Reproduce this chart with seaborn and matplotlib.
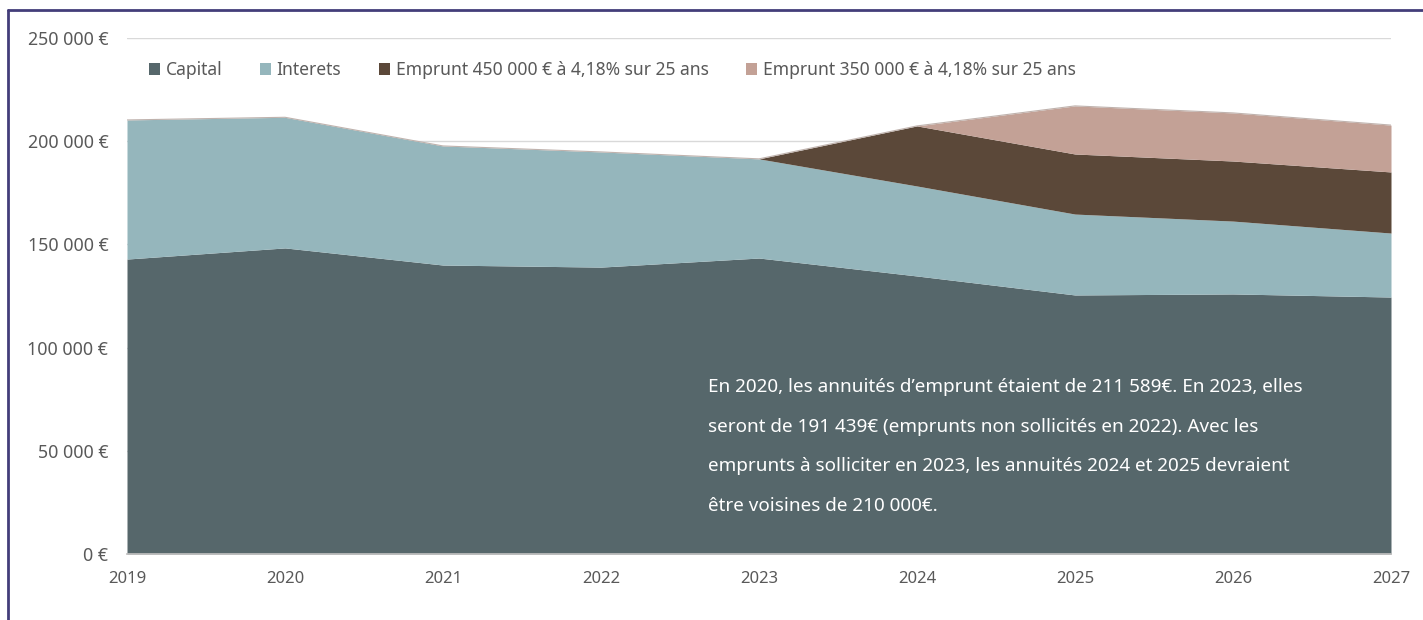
import numpy as np
import pandas as pd
import seaborn as sns
import matplotlib.pyplot as plt
from matplotlib.patches import Patch
from matplotlib.lines import Line2D
from matplotlib.ticker import FuncFormatter

# donnees
annees = [2019, 2020, 2021, 2022, 2023, 2024, 2025, 2026, 2027]
capital = [142900, 148300, 140000, 139000, 143400, 134700, 125500, 126000, 124500]
interets = [67400, 63289, 57700, 55800, 48039, 43600, 39200, 35300, 31000]
emprunt_450 = [0, 0, 0, 0, 0, 29100, 29100, 29100, 29600]
emprunt_350 = [0, 0, 0, 0, 0, 0, 23300, 23300, 22700]
series = ["Capital", "Interets", "Emprunt 450 000 € à 4,18% sur 25 ans",
          "Emprunt 350 000 € à 4,18% sur 25 ans"]
couleurs = ["#56676b", "#95b6bc", "#5b4839", "#c3a196"]

df = pd.DataFrame({"annee": annees, series[0]: capital, series[1]: interets,
                   series[2]: emprunt_450, series[3]: emprunt_350})

sns.set_theme(style="white")
plt.rcParams['font.family'] = ['Noto Sans', 'DejaVu Sans']
gris = "#595959"

fig = plt.figure(figsize=(14.23, 6.2), dpi=100)
ax = fig.add_axes([127/1423, 1-554/620, 1264/1423, 516/620])

ax.stackplot(df["annee"], [df[s] for s in series], colors=couleurs,
             linewidth=0, zorder=2)
# fin liseré au sommet
top = df[series].sum(axis=1)
sns.lineplot(x=df["annee"], y=top, ax=ax, color="#bfb2ad", lw=0.8, zorder=3)

ax.set_xlim(2019, 2027)
ax.set_ylim(0, 250000)
ax.set_xticks(annees)
ax.set_yticks(np.arange(0, 250001, 50000))
ax.yaxis.set_major_formatter(FuncFormatter(lambda v, p: f"{int(v):,} €".replace(",", " ")))
ax.grid(axis="y", color="#d9d9d9", lw=1, zorder=0)
ax.set_axisbelow(True)
sns.despine(ax=ax, left=True, right=True, top=True)
ax.spines["bottom"].set_color("#bfbfbf")
ax.spines["bottom"].set_zorder(4)
ax.tick_params(axis="x", colors="#bfbfbf", length=6, width=1, direction="out",
               labelcolor=gris, labelsize=12, pad=6)
ax.tick_params(axis="y", length=0, labelcolor=gris, labelsize=12.8, pad=13.5)
ax.set_xlabel("")
ax.set_ylabel("")

handles = [Patch(facecolor=c, edgecolor="none") for c in couleurs]
ax.legend(handles, series, loc="upper left", bbox_to_anchor=(0.005, 0.986),
          ncol=4, frameon=False, fontsize=12.6, handlelength=0.65, handleheight=0.65,
          handletextpad=0.3, columnspacing=2.15, labelcolor=gris)

texte = ("En 2020, les annuités d’emprunt étaient de 211 589€. En 2023, elles\n"
         "seront de 191 439€ (emprunts non sollicités en 2022). Avec les\n"
         "emprunts à solliciter en 2023, les annuités 2024 et 2025 devraient\n"
         "être voisines de 210 000€.")
fig.text(708/1423, 1-378/620, texte, color="white", fontsize=13.6, ha="left",
         va="top", linespacing=2.55)

# cadre
fig.add_artist(Line2D([8/1423, 8/1423], [0, 1-10/620], color="#433d7a", lw=2))
fig.add_artist(Line2D([8/1423, 1], [1-10/620, 1-10/620], color="#433d7a", lw=2))

fig.savefig("out.png", dpi=100)
